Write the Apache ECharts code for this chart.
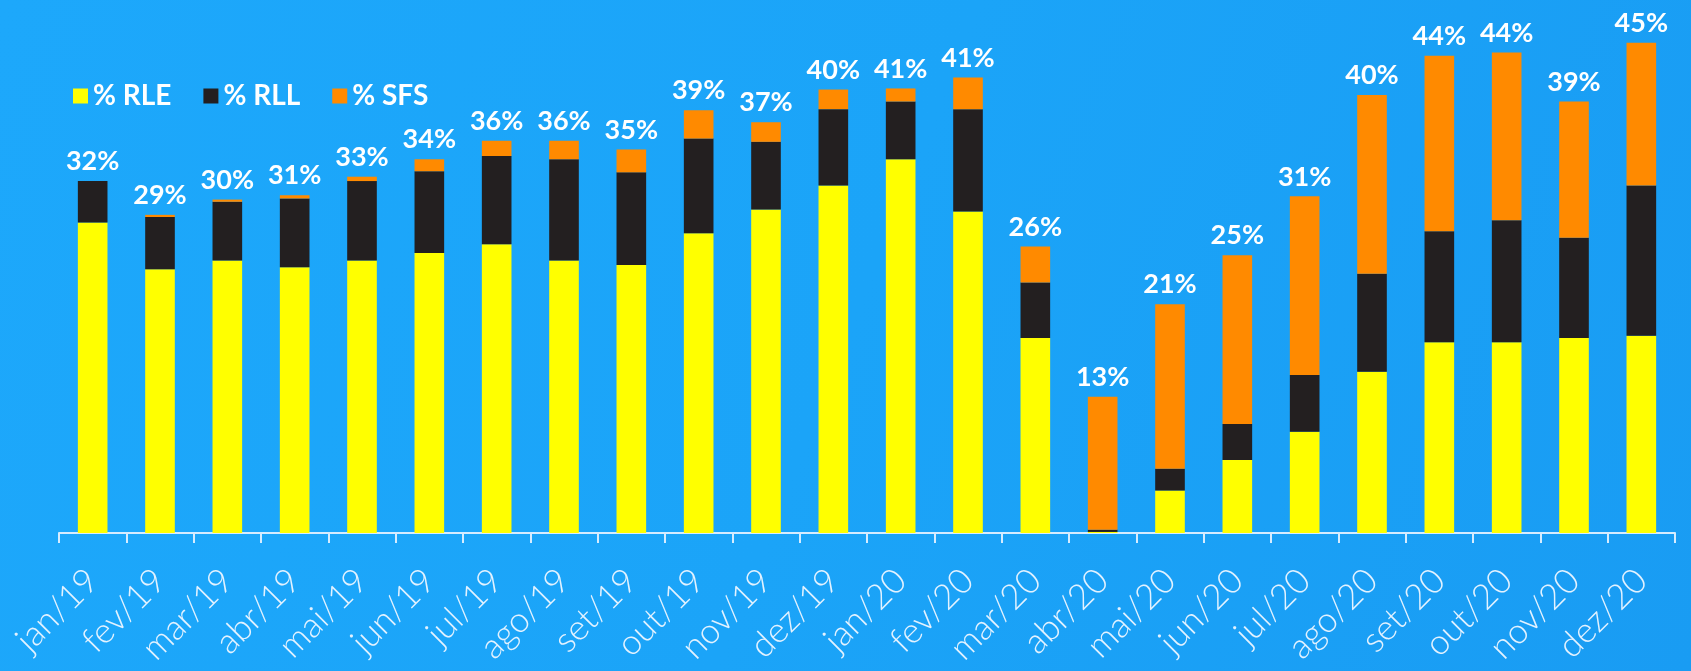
<!DOCTYPE html>
<html>
<head>
<meta charset="utf-8">
<script src="https://cdn.jsdelivr.net/npm/echarts@6/dist/echarts.min.js"></script>
<style>
  html, body { margin: 0; padding: 0; }
  #chart { width: 1691px; height: 671px; }
</style>
</head>
<body>
<div id="chart"></div>
<script>
const months = [
  "jan/19", "fev/19", "mar/19", "abr/19", "mai/19", "jun/19",
  "jul/19", "ago/19", "set/19", "out/19", "nov/19", "dez/19",
  "jan/20", "fev/20", "mar/20", "abr/20", "mai/20", "jun/20",
  "jul/20", "ago/20", "set/20", "out/20", "nov/20", "dez/20",
];

const rle = [
  28.5, 24.2, 25.0, 24.4, 25.0, 25.7, 26.5, 25.0, 24.6, 27.5, 29.7, 31.9,
  34.3, 29.5, 17.9, 0.1, 3.9, 6.7, 9.3, 14.8, 17.5, 17.5, 17.9, 18.1,
];
const rll = [
  3.8, 4.8, 5.4, 6.3, 7.3, 7.5, 8.1, 9.3, 8.5, 8.7, 6.2, 7.0,
  5.3, 9.4, 5.1, 0.2, 2.0, 3.3, 5.2, 9.0, 10.2, 11.2, 9.2, 13.8,
];
const sfs = [
  0.0, 0.2, 0.2, 0.3, 0.4, 1.1, 1.4, 1.7, 2.1, 2.6, 1.8, 1.8,
  1.2, 2.9, 3.3, 12.2, 15.1, 15.5, 16.4, 16.4, 16.1, 15.4, 12.5, 13.1,
];
const totals = [
  "32%", "29%", "30%", "31%", "33%", "34%", "36%", "36%", "35%", "39%", "37%", "40%",
  "41%", "41%", "26%", "13%", "21%", "25%", "31%", "40%", "44%", "44%", "39%", "45%",
];

const chart = echarts.init(document.getElementById("chart"));

const barBase = {
  type: "bar",
  stack: "total",
  barCategoryGap: "56%",
  emphasis: { disabled: true },
};

chart.setOption({
  backgroundColor: new echarts.graphic.LinearGradient(0, 0, 1, 1, [
    { offset: 0, color: "#1da8fb" },
    { offset: 0.5, color: "#1ba4f8" },
    { offset: 1, color: "#199cf3" },
  ]),
  animation: false,
  textStyle: { fontFamily: "Lato" },
  legend: {
    left: 68,
    top: 77,
    itemWidth: 15,
    itemHeight: 15,
    itemGap: 32,
    icon: "rect",
    textStyle: { color: "#ffffff", fontSize: 28, fontWeight: "bold", fontFamily: "Lato" },
    data: ["% RLE", "% RLL", "% SFS"],
  },
  grid: { left: 59, right: 16, top: 10, bottom: 138 },
  xAxis: {
    type: "category",
    data: months,
    axisLine: { lineStyle: { color: "#d6ecff", width: 2 } },
    axisTick: { show: true, length: 10, lineStyle: { color: "#d6ecff", width: 2 } },
    axisLabel: {
      rotate: 45,
      color: "#e3f2ff",
      fontSize: 35,
      fontFamily: "Lato",
      fontWeight: 300,
      margin: 42,
      interval: 0,
    },
  },
  yAxis: {
    type: "value",
    min: 0,
    max: 48,
    show: false,
    splitLine: { show: false },
  },
  series: [
    Object.assign({}, barBase, {
      name: "% RLE",
      data: rle,
      itemStyle: { color: "#ffff00" },
    }),
    Object.assign({}, barBase, {
      name: "% RLL",
      data: rll,
      itemStyle: { color: "#231f20" },
    }),
    Object.assign({}, barBase, {
      name: "% SFS",
      data: sfs,
      itemStyle: { color: "#ff8a00" },
      label: {
        show: true,
        position: "top",
        distance: 6,
        color: "#ffffff",
        fontSize: 27,
        fontWeight: "bold",
        fontFamily: "Lato",
        formatter: (p) => totals[p.dataIndex],
      },
    }),
  ],
});
</script>
</body>
</html>
